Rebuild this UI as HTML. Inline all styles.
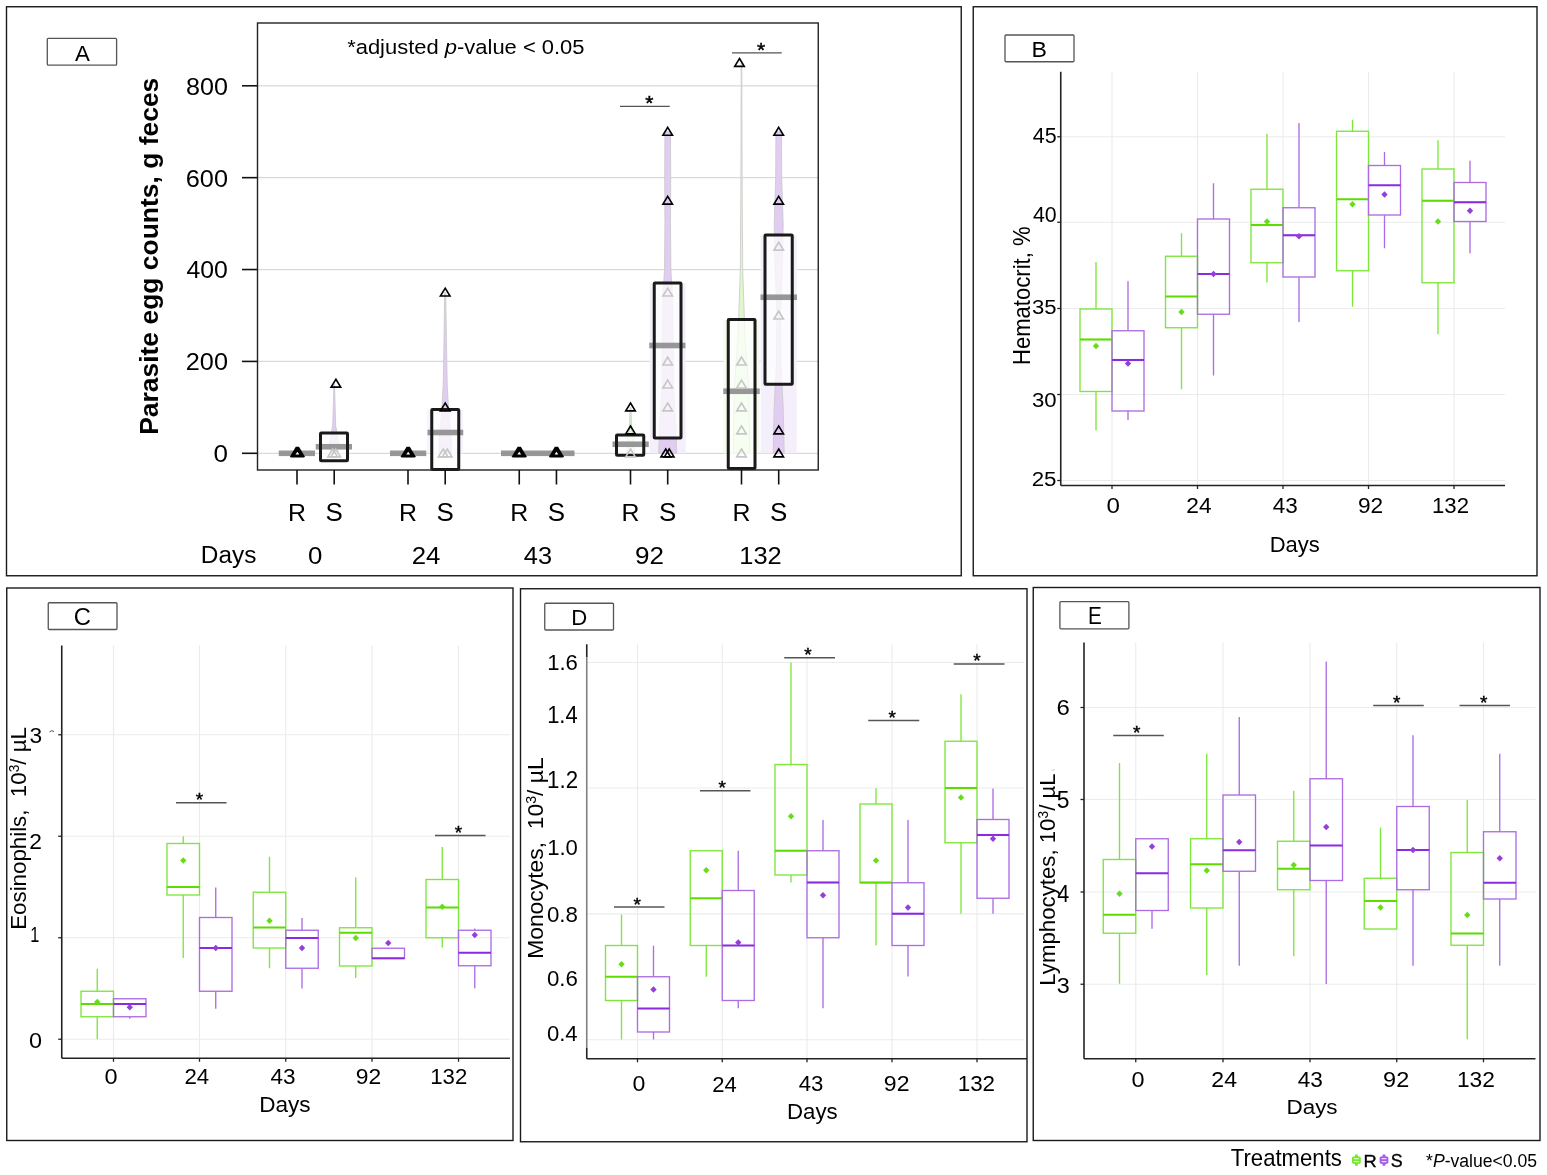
<!DOCTYPE html>
<html><head><meta charset="utf-8"><title>Figure</title>
<style>
html,body{margin:0;padding:0;background:#fff;overflow:hidden;}
svg{display:block;}
text{font-family:'Liberation Sans', Arial, Helvetica, sans-serif;fill:#000;white-space:pre;}
</style></head>
<body>
<svg width="1547" height="1175" viewBox="0 0 1547 1175">
<rect x="0" y="0" width="1547" height="1175" fill="#fff"/>
<rect x="6.50" y="6.75" width="954.75" height="569.00" stroke="#1a1a1a" stroke-width="1.4" fill="none" />
<rect x="973.25" y="6.75" width="563.75" height="569.00" stroke="#1a1a1a" stroke-width="1.4" fill="none" />
<rect x="6.75" y="588.00" width="506.25" height="552.50" stroke="#1a1a1a" stroke-width="1.4" fill="none" />
<rect x="520.50" y="588.75" width="506.50" height="553.00" stroke="#1a1a1a" stroke-width="1.4" fill="none" />
<rect x="1033.25" y="587.50" width="506.75" height="553.00" stroke="#1a1a1a" stroke-width="1.4" fill="none" />
<rect x="47.30" y="38.30" width="69.30" height="26.90" stroke="#555" stroke-width="1.3" fill="none" rx="1"/>
<text transform="translate(75.00,60.80) scale(0.9851,1)" font-size="22.61">A</text>
<rect x="1005.00" y="35.00" width="69.00" height="26.75" stroke="#555" stroke-width="1.3" fill="none" rx="1"/>
<text transform="translate(1031.45,56.60) scale(1.0239,1)" font-size="22.61">B</text>
<rect x="48.25" y="602.75" width="68.75" height="26.75" stroke="#555" stroke-width="1.3" fill="none" rx="1"/>
<text transform="translate(73.81,624.77) scale(1.0308,1)" font-size="23.10">C</text>
<rect x="544.75" y="603.25" width="68.75" height="26.75" stroke="#555" stroke-width="1.3" fill="none" rx="1"/>
<text transform="translate(571.23,624.80) scale(0.9804,1)" font-size="22.61">D</text>
<rect x="1059.90" y="601.70" width="69.00" height="27.10" stroke="#555" stroke-width="1.3" fill="none" rx="1"/>
<text transform="translate(1087.94,624.20) scale(0.8995,1)" font-size="23.04">E</text>
<line x1="257.50" y1="453.30" x2="818.25" y2="453.30" stroke="#d9d9d9" stroke-width="1.2" />
<line x1="242.00" y1="453.30" x2="257.50" y2="453.30" stroke="#111" stroke-width="1.6" />
<text transform="translate(213.46,462.36) scale(1.0688,1)" font-size="24.37">0</text>
<line x1="257.50" y1="361.42" x2="818.25" y2="361.42" stroke="#d9d9d9" stroke-width="1.2" />
<line x1="242.00" y1="361.42" x2="257.50" y2="361.42" stroke="#111" stroke-width="1.6" />
<text transform="translate(185.73,370.37) scale(1.0330,1)" font-size="24.51">200</text>
<line x1="257.50" y1="269.54" x2="818.25" y2="269.54" stroke="#d9d9d9" stroke-width="1.2" />
<line x1="242.00" y1="269.54" x2="257.50" y2="269.54" stroke="#111" stroke-width="1.6" />
<text transform="translate(186.50,278.49) scale(1.0138,1)" font-size="24.51">400</text>
<line x1="257.50" y1="177.66" x2="818.25" y2="177.66" stroke="#d9d9d9" stroke-width="1.2" />
<line x1="242.00" y1="177.66" x2="257.50" y2="177.66" stroke="#111" stroke-width="1.6" />
<text transform="translate(185.73,186.61) scale(1.0330,1)" font-size="24.51">600</text>
<line x1="257.50" y1="85.78" x2="818.25" y2="85.78" stroke="#d9d9d9" stroke-width="1.2" />
<line x1="242.00" y1="85.78" x2="257.50" y2="85.78" stroke="#111" stroke-width="1.6" />
<text transform="translate(185.99,94.73) scale(1.0265,1)" font-size="24.51">800</text>
<rect x="649.70" y="283.32" width="36" height="169.98" fill="#f5effb"/>
<rect x="723.50" y="320.07" width="36" height="133.23" fill="#f4fcee"/>
<rect x="760.70" y="235.09" width="36" height="218.21" fill="#f5effb"/>
<rect x="427.20" y="409.66" width="36" height="43.64" fill="#f8f3fc"/>
<path d="M333.80 384.39 L333.40 402.77 L332.70 425.74 L329.20 444.11 L330.20 453.30 L338.20 453.30 L339.20 444.11 L335.70 425.74 L335.00 402.77 L334.60 384.39 Z" fill="#e0cdf1" stroke="#c8c8c8" stroke-width="0.8" opacity="1.0"/>
<path d="M444.70 292.51 L444.00 338.45 L443.20 384.39 L441.70 411.95 L439.20 439.52 L439.20 453.30 L451.20 453.30 L451.20 439.52 L448.70 411.95 L447.20 384.39 L446.40 338.45 L445.70 292.51 Z" fill="#e0cdf1" stroke="#c8c8c8" stroke-width="0.8" opacity="1.0"/>
<path d="M630.10 407.36 L629.50 425.74 L627.50 439.52 L626.50 453.30 L634.50 453.30 L633.50 439.52 L631.50 425.74 L630.90 407.36 Z" fill="#dff7cc" stroke="#c8c8c8" stroke-width="0.8" opacity="1.0"/>
<path d="M664.90 131.72 L664.70 177.66 L664.90 223.60 L664.50 269.54 L663.20 292.51 L662.20 338.45 L662.20 384.39 L659.70 425.74 L658.70 453.30 L676.70 453.30 L675.70 425.74 L673.20 384.39 L673.20 338.45 L672.20 292.51 L670.90 269.54 L670.50 223.60 L670.70 177.66 L670.50 131.72 Z" fill="#e0cdf1" stroke="#c8c8c8" stroke-width="0.8" opacity="1.0"/>
<path d="M741.20 62.81 L740.90 177.66 L740.30 269.54 L738.00 338.45 L734.50 384.39 L733.50 430.33 L733.50 453.30 L749.50 453.30 L749.50 430.33 L748.50 384.39 L745.00 338.45 L742.70 269.54 L742.10 177.66 L741.80 62.81 Z" fill="#dff7cc" stroke="#c8c8c8" stroke-width="0.8" opacity="1.0"/>
<path d="M775.90 131.72 L775.70 177.66 L774.20 223.60 L775.20 269.54 L776.90 315.48 L776.50 361.42 L774.20 407.36 L773.20 453.30 L784.20 453.30 L783.20 407.36 L780.90 361.42 L780.50 315.48 L782.20 269.54 L783.20 223.60 L781.70 177.66 L781.50 131.72 Z" fill="#e0cdf1" stroke="#c8c8c8" stroke-width="0.8" opacity="1.0"/>
<rect x="320.50" y="433.00" width="27.00" height="27.75" stroke="none" stroke-width="0" fill="rgba(255,255,255,0.72)" />
<rect x="431.75" y="409.50" width="27.00" height="60.00" stroke="none" stroke-width="0" fill="rgba(255,255,255,0.72)" />
<rect x="616.50" y="435.00" width="27.25" height="20.25" stroke="none" stroke-width="0" fill="rgba(255,255,255,0.72)" />
<rect x="654.25" y="283.00" width="26.75" height="155.00" stroke="none" stroke-width="0" fill="rgba(255,255,255,0.72)" />
<rect x="728.25" y="319.50" width="26.75" height="149.00" stroke="none" stroke-width="0" fill="rgba(255,255,255,0.72)" />
<rect x="765.00" y="235.00" width="27.25" height="149.25" stroke="none" stroke-width="0" fill="rgba(255,255,255,0.72)" />
<rect x="278.75" y="450.50" width="36.25" height="5.6" fill="#8c8c8c" opacity="0.9"/>
<rect x="315.75" y="443.95" width="36.25" height="5.6" fill="#8c8c8c" opacity="0.9"/>
<rect x="390.00" y="450.50" width="36.25" height="5.6" fill="#8c8c8c" opacity="0.9"/>
<rect x="427.50" y="429.70" width="35.75" height="5.6" fill="#8c8c8c" opacity="0.9"/>
<rect x="501.00" y="450.50" width="73.50" height="5.6" fill="#8c8c8c" opacity="0.9"/>
<rect x="612.50" y="441.45" width="36.25" height="5.6" fill="#8c8c8c" opacity="0.9"/>
<rect x="649.25" y="342.70" width="36.25" height="5.6" fill="#8c8c8c" opacity="0.9"/>
<rect x="723.25" y="388.45" width="36.50" height="5.6" fill="#8c8c8c" opacity="0.9"/>
<rect x="760.50" y="294.45" width="36.50" height="5.6" fill="#8c8c8c" opacity="0.9"/>
<rect x="320.50" y="433.00" width="27.00" height="27.75" stroke="#1a1a1a" stroke-width="3.0" fill="none" rx="0.8"/>
<rect x="431.75" y="409.50" width="27.00" height="60.00" stroke="#1a1a1a" stroke-width="3.0" fill="none" rx="0.8"/>
<rect x="616.50" y="435.00" width="27.25" height="20.25" stroke="#1a1a1a" stroke-width="3.0" fill="none" rx="0.8"/>
<rect x="654.25" y="283.00" width="26.75" height="155.00" stroke="#1a1a1a" stroke-width="3.0" fill="none" rx="0.8"/>
<rect x="728.25" y="319.50" width="26.75" height="149.00" stroke="#1a1a1a" stroke-width="3.0" fill="none" rx="0.8"/>
<rect x="765.00" y="235.00" width="27.25" height="149.25" stroke="#1a1a1a" stroke-width="3.0" fill="none" rx="0.8"/>
<path d="M295.80 446.80L299.00 446.80L304.70 456.20Q304.70 457.40 303.50 457.40L291.30 457.40Q290.10 457.40 290.10 456.20Z" fill="#000"/>
<path d="M297.40 451.80L299.30 454.50L295.50 454.50Z" fill="#fff"/>
<path d="M332.70 448.97L337.50 456.84L327.90 456.84Z" fill="none" stroke="#c6c6c6" stroke-width="1.6" stroke-linejoin="miter"/>
<path d="M335.70 448.97L340.50 456.84L330.90 456.84Z" fill="none" stroke="#c6c6c6" stroke-width="1.6" stroke-linejoin="miter"/>
<path d="M335.90 379.26L340.70 387.13L331.10 387.13Z" fill="none" stroke="#000" stroke-width="1.6" stroke-linejoin="miter"/>
<path d="M406.60 446.80L409.80 446.80L415.50 456.20Q415.50 457.40 414.30 457.40L402.10 457.40Q400.90 457.40 400.90 456.20Z" fill="#000"/>
<path d="M408.20 451.80L410.10 454.50L406.30 454.50Z" fill="#fff"/>
<path d="M443.20 448.97L448.00 456.84L438.40 456.84Z" fill="none" stroke="#c6c6c6" stroke-width="1.6" stroke-linejoin="miter"/>
<path d="M447.20 448.97L452.00 456.84L442.40 456.84Z" fill="none" stroke="#c6c6c6" stroke-width="1.6" stroke-linejoin="miter"/>
<path d="M445.20 403.03L450.00 410.90L440.40 410.90Z" fill="none" stroke="#000" stroke-width="1.6" stroke-linejoin="miter"/>
<path d="M445.20 288.18L450.00 296.05L440.40 296.05Z" fill="none" stroke="#000" stroke-width="1.6" stroke-linejoin="miter"/>
<path d="M517.65 446.80L520.85 446.80L526.55 456.20Q526.55 457.40 525.35 457.40L513.15 457.40Q511.95 457.40 511.95 456.20Z" fill="#000"/>
<path d="M519.25 451.80L521.15 454.50L517.35 454.50Z" fill="#fff"/>
<path d="M554.85 446.80L558.05 446.80L563.75 456.20Q563.75 457.40 562.55 457.40L550.35 457.40Q549.15 457.40 549.15 456.20Z" fill="#000"/>
<path d="M556.45 451.80L558.35 454.50L554.55 454.50Z" fill="#fff"/>
<path d="M630.50 448.97L635.30 456.84L625.70 456.84Z" fill="none" stroke="#c6c6c6" stroke-width="1.6" stroke-linejoin="miter"/>
<path d="M630.50 426.00L635.30 433.87L625.70 433.87Z" fill="none" stroke="#000" stroke-width="1.6" stroke-linejoin="miter"/>
<path d="M630.50 403.03L635.30 410.90L625.70 410.90Z" fill="none" stroke="#000" stroke-width="1.6" stroke-linejoin="miter"/>
<path d="M667.70 403.03L672.50 410.90L662.90 410.90Z" fill="none" stroke="#c6c6c6" stroke-width="1.6" stroke-linejoin="miter"/>
<path d="M667.70 380.06L672.50 387.93L662.90 387.93Z" fill="none" stroke="#c6c6c6" stroke-width="1.6" stroke-linejoin="miter"/>
<path d="M667.70 357.09L672.50 364.96L662.90 364.96Z" fill="none" stroke="#c6c6c6" stroke-width="1.6" stroke-linejoin="miter"/>
<path d="M667.70 288.18L672.50 296.05L662.90 296.05Z" fill="none" stroke="#c6c6c6" stroke-width="1.6" stroke-linejoin="miter"/>
<path d="M665.70 448.97L670.50 456.84L660.90 456.84Z" fill="none" stroke="#000" stroke-width="1.6" stroke-linejoin="miter"/>
<path d="M669.20 448.97L674.00 456.84L664.40 456.84Z" fill="none" stroke="#000" stroke-width="1.6" stroke-linejoin="miter"/>
<path d="M667.70 196.30L672.50 204.17L662.90 204.17Z" fill="none" stroke="#000" stroke-width="1.6" stroke-linejoin="miter"/>
<path d="M667.70 127.39L672.50 135.26L662.90 135.26Z" fill="none" stroke="#000" stroke-width="1.6" stroke-linejoin="miter"/>
<path d="M741.50 448.97L746.30 456.84L736.70 456.84Z" fill="none" stroke="#c6c6c6" stroke-width="1.6" stroke-linejoin="miter"/>
<path d="M741.50 426.00L746.30 433.87L736.70 433.87Z" fill="none" stroke="#c6c6c6" stroke-width="1.6" stroke-linejoin="miter"/>
<path d="M741.50 403.03L746.30 410.90L736.70 410.90Z" fill="none" stroke="#c6c6c6" stroke-width="1.6" stroke-linejoin="miter"/>
<path d="M741.50 380.06L746.30 387.93L736.70 387.93Z" fill="none" stroke="#c6c6c6" stroke-width="1.6" stroke-linejoin="miter"/>
<path d="M741.50 357.09L746.30 364.96L736.70 364.96Z" fill="none" stroke="#c6c6c6" stroke-width="1.6" stroke-linejoin="miter"/>
<path d="M739.50 58.48L744.30 66.35L734.70 66.35Z" fill="none" stroke="#000" stroke-width="1.6" stroke-linejoin="miter"/>
<path d="M778.70 311.15L783.50 319.02L773.90 319.02Z" fill="none" stroke="#c6c6c6" stroke-width="1.6" stroke-linejoin="miter"/>
<path d="M778.70 242.24L783.50 250.11L773.90 250.11Z" fill="none" stroke="#c6c6c6" stroke-width="1.6" stroke-linejoin="miter"/>
<path d="M778.70 448.97L783.50 456.84L773.90 456.84Z" fill="none" stroke="#000" stroke-width="1.6" stroke-linejoin="miter"/>
<path d="M778.70 426.00L783.50 433.87L773.90 433.87Z" fill="none" stroke="#000" stroke-width="1.6" stroke-linejoin="miter"/>
<path d="M778.70 196.30L783.50 204.17L773.90 204.17Z" fill="none" stroke="#000" stroke-width="1.6" stroke-linejoin="miter"/>
<path d="M778.70 127.39L783.50 135.26L773.90 135.26Z" fill="none" stroke="#000" stroke-width="1.6" stroke-linejoin="miter"/>
<rect x="257.50" y="23.00" width="560.75" height="447.00" stroke="#222" stroke-width="1.4" fill="none" />
<line x1="297.00" y1="470.00" x2="297.00" y2="484.50" stroke="#111" stroke-width="1.6" />
<line x1="334.20" y1="470.00" x2="334.20" y2="484.50" stroke="#111" stroke-width="1.6" />
<text transform="translate(288.11,520.90) scale(1.0506,1)" font-size="23.71">R</text>
<text transform="translate(325.50,521.15) scale(1.0357,1)" font-size="25.07">S</text>
<text transform="translate(307.97,563.86) scale(1.0726,1)" font-size="24.08">0</text>
<line x1="408.00" y1="470.00" x2="408.00" y2="484.50" stroke="#111" stroke-width="1.6" />
<line x1="445.20" y1="470.00" x2="445.20" y2="484.50" stroke="#111" stroke-width="1.6" />
<text transform="translate(399.11,520.90) scale(1.0506,1)" font-size="23.71">R</text>
<text transform="translate(436.50,521.15) scale(1.0357,1)" font-size="25.07">S</text>
<text transform="translate(411.71,564.10) scale(1.0572,1)" font-size="24.43">24</text>
<line x1="519.25" y1="470.00" x2="519.25" y2="484.50" stroke="#111" stroke-width="1.6" />
<line x1="556.45" y1="470.00" x2="556.45" y2="484.50" stroke="#111" stroke-width="1.6" />
<text transform="translate(510.36,520.90) scale(1.0506,1)" font-size="23.71">R</text>
<text transform="translate(547.75,521.15) scale(1.0357,1)" font-size="25.07">S</text>
<text transform="translate(523.79,563.86) scale(1.0558,1)" font-size="24.08">43</text>
<line x1="630.50" y1="470.00" x2="630.50" y2="484.50" stroke="#111" stroke-width="1.6" />
<line x1="667.70" y1="470.00" x2="667.70" y2="484.50" stroke="#111" stroke-width="1.6" />
<text transform="translate(621.61,520.90) scale(1.0506,1)" font-size="23.71">R</text>
<text transform="translate(659.00,521.15) scale(1.0357,1)" font-size="25.07">S</text>
<text transform="translate(635.00,563.86) scale(1.0812,1)" font-size="24.08">92</text>
<line x1="741.50" y1="470.00" x2="741.50" y2="484.50" stroke="#111" stroke-width="1.6" />
<line x1="778.70" y1="470.00" x2="778.70" y2="484.50" stroke="#111" stroke-width="1.6" />
<text transform="translate(732.61,520.90) scale(1.0506,1)" font-size="23.71">R</text>
<text transform="translate(770.00,521.15) scale(1.0357,1)" font-size="25.07">S</text>
<text transform="translate(739.26,563.86) scale(1.0569,1)" font-size="24.08">132</text>
<text transform="translate(200.85,562.57) scale(0.9981,1)" font-size="24.44">Days</text>
<line x1="620.00" y1="106.30" x2="669.75" y2="106.30" stroke="#555" stroke-width="1.3" />
<text x="645.30" y="110.31" font-size="21" stroke="#000" stroke-width="0.45">*</text>
<line x1="732.00" y1="52.80" x2="781.75" y2="52.80" stroke="#555" stroke-width="1.3" />
<text x="757.11" y="57.02" font-size="21" stroke="#000" stroke-width="0.45">*</text>
<text transform="translate(347.16,54.27) scale(1.0642,1)" font-size="20.64">*adjusted <tspan font-style="italic">p</tspan>-value &lt; 0.05</text>
<text transform="translate(158.00,434.85) rotate(-90) scale(1.0008,1)" font-size="26.44" font-weight="bold">Parasite egg counts, g feces</text>
<line x1="1060.75" y1="136.75" x2="1505.00" y2="136.75" stroke="#ebebeb" stroke-width="1.1" />
<line x1="1060.75" y1="222.25" x2="1505.00" y2="222.25" stroke="#ebebeb" stroke-width="1.1" />
<line x1="1060.75" y1="308.50" x2="1505.00" y2="308.50" stroke="#ebebeb" stroke-width="1.1" />
<line x1="1060.75" y1="394.50" x2="1505.00" y2="394.50" stroke="#ebebeb" stroke-width="1.1" />
<line x1="1060.75" y1="480.50" x2="1505.00" y2="480.50" stroke="#ebebeb" stroke-width="1.1" />
<line x1="1112.00" y1="71.75" x2="1112.00" y2="485.50" stroke="#ebebeb" stroke-width="1.1" />
<line x1="1197.50" y1="71.75" x2="1197.50" y2="485.50" stroke="#ebebeb" stroke-width="1.1" />
<line x1="1283.00" y1="71.75" x2="1283.00" y2="485.50" stroke="#ebebeb" stroke-width="1.1" />
<line x1="1368.50" y1="71.75" x2="1368.50" y2="485.50" stroke="#ebebeb" stroke-width="1.1" />
<line x1="1454.00" y1="71.75" x2="1454.00" y2="485.50" stroke="#ebebeb" stroke-width="1.1" />
<line x1="1096.00" y1="262.00" x2="1096.00" y2="309.00" stroke="#7de63a" stroke-width="1.35" />
<line x1="1096.00" y1="391.50" x2="1096.00" y2="430.50" stroke="#7de63a" stroke-width="1.35" />
<rect x="1080.00" y="309.00" width="32.00" height="82.50" stroke="#7de63a" stroke-width="1.35" fill="none" />
<line x1="1080.00" y1="339.50" x2="1112.00" y2="339.50" stroke="#5cdc00" stroke-width="2.1" />
<path d="M1096.00 342.80L1099.20 346.00L1096.00 349.20L1092.80 346.00Z" fill="#66dd1a"/>
<line x1="1128.00" y1="281.25" x2="1128.00" y2="330.75" stroke="#ac6de2" stroke-width="1.35" />
<line x1="1128.00" y1="411.00" x2="1128.00" y2="420.00" stroke="#ac6de2" stroke-width="1.35" />
<rect x="1112.00" y="330.75" width="32.00" height="80.25" stroke="#ac6de2" stroke-width="1.35" fill="none" />
<line x1="1112.00" y1="360.00" x2="1144.00" y2="360.00" stroke="#8a2be2" stroke-width="2.1" />
<path d="M1128.00 360.30L1131.20 363.50L1128.00 366.70L1124.80 363.50Z" fill="#9440d8"/>
<line x1="1181.50" y1="233.25" x2="1181.50" y2="256.25" stroke="#7de63a" stroke-width="1.35" />
<line x1="1181.50" y1="327.75" x2="1181.50" y2="389.25" stroke="#7de63a" stroke-width="1.35" />
<rect x="1165.50" y="256.25" width="32.00" height="71.50" stroke="#7de63a" stroke-width="1.35" fill="none" />
<line x1="1165.50" y1="296.50" x2="1197.50" y2="296.50" stroke="#5cdc00" stroke-width="2.1" />
<path d="M1181.50 308.80L1184.70 312.00L1181.50 315.20L1178.30 312.00Z" fill="#66dd1a"/>
<line x1="1213.50" y1="183.25" x2="1213.50" y2="219.00" stroke="#ac6de2" stroke-width="1.35" />
<line x1="1213.50" y1="314.25" x2="1213.50" y2="375.50" stroke="#ac6de2" stroke-width="1.35" />
<rect x="1197.50" y="219.00" width="32.00" height="95.25" stroke="#ac6de2" stroke-width="1.35" fill="none" />
<line x1="1197.50" y1="274.00" x2="1229.50" y2="274.00" stroke="#8a2be2" stroke-width="2.1" />
<path d="M1213.50 270.80L1216.70 274.00L1213.50 277.20L1210.30 274.00Z" fill="#9440d8"/>
<line x1="1267.00" y1="133.75" x2="1267.00" y2="189.25" stroke="#7de63a" stroke-width="1.35" />
<line x1="1267.00" y1="262.75" x2="1267.00" y2="282.50" stroke="#7de63a" stroke-width="1.35" />
<rect x="1251.00" y="189.25" width="32.00" height="73.50" stroke="#7de63a" stroke-width="1.35" fill="none" />
<line x1="1251.00" y1="225.00" x2="1283.00" y2="225.00" stroke="#5cdc00" stroke-width="2.1" />
<path d="M1267.00 218.30L1270.20 221.50L1267.00 224.70L1263.80 221.50Z" fill="#66dd1a"/>
<line x1="1299.00" y1="123.00" x2="1299.00" y2="207.75" stroke="#ac6de2" stroke-width="1.35" />
<line x1="1299.00" y1="277.00" x2="1299.00" y2="322.00" stroke="#ac6de2" stroke-width="1.35" />
<rect x="1283.00" y="207.75" width="32.00" height="69.25" stroke="#ac6de2" stroke-width="1.35" fill="none" />
<line x1="1283.00" y1="235.25" x2="1315.00" y2="235.25" stroke="#8a2be2" stroke-width="2.1" />
<path d="M1299.00 233.05L1302.20 236.25L1299.00 239.45L1295.80 236.25Z" fill="#9440d8"/>
<line x1="1352.50" y1="119.75" x2="1352.50" y2="131.25" stroke="#7de63a" stroke-width="1.35" />
<line x1="1352.50" y1="270.75" x2="1352.50" y2="306.75" stroke="#7de63a" stroke-width="1.35" />
<rect x="1336.50" y="131.25" width="32.00" height="139.50" stroke="#7de63a" stroke-width="1.35" fill="none" />
<line x1="1336.50" y1="199.25" x2="1368.50" y2="199.25" stroke="#5cdc00" stroke-width="2.1" />
<path d="M1352.50 201.05L1355.70 204.25L1352.50 207.45L1349.30 204.25Z" fill="#66dd1a"/>
<line x1="1384.50" y1="152.00" x2="1384.50" y2="165.50" stroke="#ac6de2" stroke-width="1.35" />
<line x1="1384.50" y1="215.00" x2="1384.50" y2="248.25" stroke="#ac6de2" stroke-width="1.35" />
<rect x="1368.50" y="165.50" width="32.00" height="49.50" stroke="#ac6de2" stroke-width="1.35" fill="none" />
<line x1="1368.50" y1="185.25" x2="1400.50" y2="185.25" stroke="#8a2be2" stroke-width="2.1" />
<path d="M1384.50 191.30L1387.70 194.50L1384.50 197.70L1381.30 194.50Z" fill="#9440d8"/>
<line x1="1438.00" y1="140.25" x2="1438.00" y2="169.00" stroke="#7de63a" stroke-width="1.35" />
<line x1="1438.00" y1="282.75" x2="1438.00" y2="334.25" stroke="#7de63a" stroke-width="1.35" />
<rect x="1422.00" y="169.00" width="32.00" height="113.75" stroke="#7de63a" stroke-width="1.35" fill="none" />
<line x1="1422.00" y1="200.75" x2="1454.00" y2="200.75" stroke="#5cdc00" stroke-width="2.1" />
<path d="M1438.00 218.30L1441.20 221.50L1438.00 224.70L1434.80 221.50Z" fill="#66dd1a"/>
<line x1="1470.00" y1="160.75" x2="1470.00" y2="182.50" stroke="#ac6de2" stroke-width="1.35" />
<line x1="1470.00" y1="221.50" x2="1470.00" y2="253.25" stroke="#ac6de2" stroke-width="1.35" />
<rect x="1454.00" y="182.50" width="32.00" height="39.00" stroke="#ac6de2" stroke-width="1.35" fill="none" />
<line x1="1454.00" y1="202.25" x2="1486.00" y2="202.25" stroke="#8a2be2" stroke-width="2.1" />
<path d="M1470.00 207.55L1473.20 210.75L1470.00 213.95L1466.80 210.75Z" fill="#9440d8"/>
<line x1="1060.75" y1="71.75" x2="1060.75" y2="485.50" stroke="#222" stroke-width="1.6" />
<line x1="1060.75" y1="485.50" x2="1505.00" y2="485.50" stroke="#222" stroke-width="1.6" />
<line x1="1112.00" y1="485.50" x2="1112.00" y2="489.00" stroke="#222" stroke-width="1.3" />
<line x1="1197.50" y1="485.50" x2="1197.50" y2="489.00" stroke="#222" stroke-width="1.3" />
<line x1="1283.00" y1="485.50" x2="1283.00" y2="489.00" stroke="#222" stroke-width="1.3" />
<line x1="1368.50" y1="485.50" x2="1368.50" y2="489.00" stroke="#222" stroke-width="1.3" />
<line x1="1454.00" y1="485.50" x2="1454.00" y2="489.00" stroke="#222" stroke-width="1.3" />
<line x1="1057.25" y1="136.75" x2="1060.75" y2="136.75" stroke="#222" stroke-width="1.3" />
<line x1="1057.25" y1="222.25" x2="1060.75" y2="222.25" stroke="#222" stroke-width="1.3" />
<line x1="1057.25" y1="308.50" x2="1060.75" y2="308.50" stroke="#222" stroke-width="1.3" />
<line x1="1057.25" y1="394.50" x2="1060.75" y2="394.50" stroke="#222" stroke-width="1.3" />
<line x1="1057.25" y1="480.50" x2="1060.75" y2="480.50" stroke="#222" stroke-width="1.3" />
<text transform="translate(1032.77,143.18) scale(0.9734,1)" font-size="22.11">45</text>
<text transform="translate(1032.97,222.38) scale(0.9900,1)" font-size="21.55">40</text>
<text transform="translate(1031.91,314.39) scale(1.0548,1)" font-size="20.99">35</text>
<text transform="translate(1031.91,407.09) scale(1.0478,1)" font-size="21.13">30</text>
<text transform="translate(1031.68,485.69) scale(1.0580,1)" font-size="21.13">25</text>
<text transform="translate(1106.43,513.07) scale(1.0724,1)" font-size="22.54">0</text>
<text transform="translate(1186.26,513.30) scale(0.9939,1)" font-size="22.86">24</text>
<text transform="translate(1272.65,513.07) scale(0.9974,1)" font-size="22.54">43</text>
<text transform="translate(1357.97,513.07) scale(1.0061,1)" font-size="22.54">92</text>
<text transform="translate(1432.03,513.07) scale(0.9826,1)" font-size="22.54">132</text>
<text transform="translate(1269.64,552.32) scale(1.0330,1)" font-size="21.33">Days</text>
<text transform="translate(1029.50,365.07) rotate(-90) scale(0.9606,1)" font-size="23.00">Hematocrit, %</text>
<line x1="61.75" y1="734.75" x2="510.00" y2="734.75" stroke="#ebebeb" stroke-width="1.1" />
<line x1="61.75" y1="836.25" x2="510.00" y2="836.25" stroke="#ebebeb" stroke-width="1.1" />
<line x1="61.75" y1="937.75" x2="510.00" y2="937.75" stroke="#ebebeb" stroke-width="1.1" />
<line x1="61.75" y1="1039.25" x2="510.00" y2="1039.25" stroke="#ebebeb" stroke-width="1.1" />
<line x1="113.50" y1="645.50" x2="113.50" y2="1058.25" stroke="#ebebeb" stroke-width="1.1" />
<line x1="199.50" y1="645.50" x2="199.50" y2="1058.25" stroke="#ebebeb" stroke-width="1.1" />
<line x1="285.75" y1="645.50" x2="285.75" y2="1058.25" stroke="#ebebeb" stroke-width="1.1" />
<line x1="372.00" y1="645.50" x2="372.00" y2="1058.25" stroke="#ebebeb" stroke-width="1.1" />
<line x1="458.50" y1="645.50" x2="458.50" y2="1058.25" stroke="#ebebeb" stroke-width="1.1" />
<line x1="97.25" y1="968.75" x2="97.25" y2="991.25" stroke="#7de63a" stroke-width="1.35" />
<line x1="97.25" y1="1016.75" x2="97.25" y2="1039.25" stroke="#7de63a" stroke-width="1.35" />
<rect x="81.00" y="991.25" width="32.50" height="25.50" stroke="#7de63a" stroke-width="1.35" fill="none" />
<line x1="81.00" y1="1004.00" x2="113.50" y2="1004.00" stroke="#5cdc00" stroke-width="2.1" />
<path d="M97.25 998.80L100.45 1002.00L97.25 1005.20L94.05 1002.00Z" fill="#66dd1a"/>
<line x1="129.75" y1="1016.75" x2="129.75" y2="1018.75" stroke="#ac6de2" stroke-width="1.35" />
<rect x="113.50" y="998.75" width="32.50" height="18.00" stroke="#ac6de2" stroke-width="1.35" fill="none" />
<line x1="113.50" y1="1004.00" x2="146.00" y2="1004.00" stroke="#8a2be2" stroke-width="2.1" />
<path d="M129.75 1004.05L132.95 1007.25L129.75 1010.45L126.55 1007.25Z" fill="#9440d8"/>
<line x1="183.25" y1="836.25" x2="183.25" y2="843.50" stroke="#7de63a" stroke-width="1.35" />
<line x1="183.25" y1="895.00" x2="183.25" y2="958.00" stroke="#7de63a" stroke-width="1.35" />
<rect x="167.00" y="843.50" width="32.50" height="51.50" stroke="#7de63a" stroke-width="1.35" fill="none" />
<line x1="167.00" y1="887.00" x2="199.50" y2="887.00" stroke="#5cdc00" stroke-width="2.1" />
<path d="M183.25 857.30L186.45 860.50L183.25 863.70L180.05 860.50Z" fill="#66dd1a"/>
<line x1="215.75" y1="887.50" x2="215.75" y2="917.50" stroke="#ac6de2" stroke-width="1.35" />
<line x1="215.75" y1="991.25" x2="215.75" y2="1008.75" stroke="#ac6de2" stroke-width="1.35" />
<rect x="199.50" y="917.50" width="32.50" height="73.75" stroke="#ac6de2" stroke-width="1.35" fill="none" />
<line x1="199.50" y1="948.00" x2="232.00" y2="948.00" stroke="#8a2be2" stroke-width="2.1" />
<path d="M215.75 944.80L218.95 948.00L215.75 951.20L212.55 948.00Z" fill="#9440d8"/>
<line x1="269.50" y1="856.75" x2="269.50" y2="892.25" stroke="#7de63a" stroke-width="1.35" />
<line x1="269.50" y1="948.00" x2="269.50" y2="968.25" stroke="#7de63a" stroke-width="1.35" />
<rect x="253.25" y="892.25" width="32.50" height="55.75" stroke="#7de63a" stroke-width="1.35" fill="none" />
<line x1="253.25" y1="927.50" x2="285.75" y2="927.50" stroke="#5cdc00" stroke-width="2.1" />
<path d="M269.50 917.55L272.70 920.75L269.50 923.95L266.30 920.75Z" fill="#66dd1a"/>
<line x1="302.00" y1="918.00" x2="302.00" y2="930.25" stroke="#ac6de2" stroke-width="1.35" />
<line x1="302.00" y1="968.25" x2="302.00" y2="988.50" stroke="#ac6de2" stroke-width="1.35" />
<rect x="285.75" y="930.25" width="32.50" height="38.00" stroke="#ac6de2" stroke-width="1.35" fill="none" />
<line x1="285.75" y1="938.00" x2="318.25" y2="938.00" stroke="#8a2be2" stroke-width="2.1" />
<path d="M302.00 944.80L305.20 948.00L302.00 951.20L298.80 948.00Z" fill="#9440d8"/>
<line x1="355.75" y1="877.50" x2="355.75" y2="927.75" stroke="#7de63a" stroke-width="1.35" />
<line x1="355.75" y1="966.00" x2="355.75" y2="978.00" stroke="#7de63a" stroke-width="1.35" />
<rect x="339.50" y="927.75" width="32.50" height="38.25" stroke="#7de63a" stroke-width="1.35" fill="none" />
<line x1="339.50" y1="932.75" x2="372.00" y2="932.75" stroke="#5cdc00" stroke-width="2.1" />
<path d="M355.75 934.80L358.95 938.00L355.75 941.20L352.55 938.00Z" fill="#66dd1a"/>
<rect x="372.00" y="948.25" width="32.50" height="10.25" stroke="#ac6de2" stroke-width="1.35" fill="none" />
<line x1="372.00" y1="958.25" x2="404.50" y2="958.25" stroke="#8a2be2" stroke-width="2.1" />
<path d="M388.25 939.80L391.45 943.00L388.25 946.20L385.05 943.00Z" fill="#9440d8"/>
<line x1="442.25" y1="847.00" x2="442.25" y2="879.50" stroke="#7de63a" stroke-width="1.35" />
<line x1="442.25" y1="937.75" x2="442.25" y2="947.50" stroke="#7de63a" stroke-width="1.35" />
<rect x="426.00" y="879.50" width="32.50" height="58.25" stroke="#7de63a" stroke-width="1.35" fill="none" />
<line x1="426.00" y1="907.50" x2="458.50" y2="907.50" stroke="#5cdc00" stroke-width="2.1" />
<path d="M442.25 903.55L445.45 906.75L442.25 909.95L439.05 906.75Z" fill="#66dd1a"/>
<line x1="474.75" y1="928.50" x2="474.75" y2="930.25" stroke="#ac6de2" stroke-width="1.35" />
<line x1="474.75" y1="965.75" x2="474.75" y2="988.25" stroke="#ac6de2" stroke-width="1.35" />
<rect x="458.50" y="930.25" width="32.50" height="35.50" stroke="#ac6de2" stroke-width="1.35" fill="none" />
<line x1="458.50" y1="952.75" x2="491.00" y2="952.75" stroke="#8a2be2" stroke-width="2.1" />
<path d="M474.75 931.80L477.95 935.00L474.75 938.20L471.55 935.00Z" fill="#9440d8"/>
<line x1="176.00" y1="802.75" x2="226.50" y2="802.75" stroke="#555" stroke-width="1.3" />
<text x="195.69" y="806.28" font-size="19" stroke="#000" stroke-width="0.45">*</text>
<line x1="435.00" y1="835.50" x2="485.50" y2="835.50" stroke="#555" stroke-width="1.3" />
<text x="454.69" y="839.28" font-size="19" stroke="#000" stroke-width="0.45">*</text>
<line x1="61.75" y1="645.50" x2="61.75" y2="1058.25" stroke="#222" stroke-width="1.6" />
<line x1="61.75" y1="1058.25" x2="510.00" y2="1058.25" stroke="#222" stroke-width="1.6" />
<line x1="113.50" y1="1058.25" x2="113.50" y2="1061.75" stroke="#222" stroke-width="1.3" />
<line x1="199.50" y1="1058.25" x2="199.50" y2="1061.75" stroke="#222" stroke-width="1.3" />
<line x1="285.75" y1="1058.25" x2="285.75" y2="1061.75" stroke="#222" stroke-width="1.3" />
<line x1="372.00" y1="1058.25" x2="372.00" y2="1061.75" stroke="#222" stroke-width="1.3" />
<line x1="458.50" y1="1058.25" x2="458.50" y2="1061.75" stroke="#222" stroke-width="1.3" />
<line x1="58.25" y1="734.75" x2="61.75" y2="734.75" stroke="#222" stroke-width="1.3" />
<line x1="58.25" y1="836.25" x2="61.75" y2="836.25" stroke="#222" stroke-width="1.3" />
<line x1="58.25" y1="937.75" x2="61.75" y2="937.75" stroke="#222" stroke-width="1.3" />
<line x1="58.25" y1="1039.25" x2="61.75" y2="1039.25" stroke="#222" stroke-width="1.3" />
<text transform="translate(29.49,743.48) scale(1.0295,1)" font-size="22.11">3</text>
<text transform="translate(29.36,849.00) scale(1.0512,1)" font-size="21.71">2</text>
<text transform="translate(30.30,941.50) scale(0.7342,1)" font-size="22.17">1</text>
<text transform="translate(29.06,1048.08) scale(1.0532,1)" font-size="22.25">0</text>
<path d="M49.6 731.9 Q51.5 729.6 53.9 731.6" stroke="#333" stroke-width="0.9" fill="none"/>
<text transform="translate(104.46,1083.97) scale(1.0447,1)" font-size="22.54">0</text>
<text transform="translate(184.49,1084.20) scale(0.9727,1)" font-size="22.86">24</text>
<text transform="translate(270.55,1083.97) scale(0.9974,1)" font-size="22.54">43</text>
<text transform="translate(355.86,1083.97) scale(1.0149,1)" font-size="22.54">92</text>
<text transform="translate(430.22,1083.97) scale(0.9855,1)" font-size="22.54">132</text>
<text transform="translate(259.19,1112.37) scale(1.0481,1)" font-size="21.56">Days</text>
<text transform="translate(26.00,929.78) rotate(-90) scale(0.9929,1)" font-size="22.46">Eosinophils,  10<tspan dy="-0.492em" font-size="0.62em">3</tspan><tspan dy="0.305em">/ µL</tspan></text>
<line x1="586.75" y1="662.50" x2="1024.00" y2="662.50" stroke="#ebebeb" stroke-width="1.1" />
<line x1="586.75" y1="788.00" x2="1024.00" y2="788.00" stroke="#ebebeb" stroke-width="1.1" />
<line x1="586.75" y1="913.90" x2="1024.00" y2="913.90" stroke="#ebebeb" stroke-width="1.1" />
<line x1="586.75" y1="1039.70" x2="1024.00" y2="1039.70" stroke="#ebebeb" stroke-width="1.1" />
<line x1="637.50" y1="644.25" x2="637.50" y2="1058.75" stroke="#ebebeb" stroke-width="1.1" />
<line x1="722.25" y1="644.25" x2="722.25" y2="1058.75" stroke="#ebebeb" stroke-width="1.1" />
<line x1="807.00" y1="644.25" x2="807.00" y2="1058.75" stroke="#ebebeb" stroke-width="1.1" />
<line x1="892.00" y1="644.25" x2="892.00" y2="1058.75" stroke="#ebebeb" stroke-width="1.1" />
<line x1="977.00" y1="644.25" x2="977.00" y2="1058.75" stroke="#ebebeb" stroke-width="1.1" />
<line x1="621.50" y1="914.50" x2="621.50" y2="945.50" stroke="#7de63a" stroke-width="1.35" />
<line x1="621.50" y1="1000.50" x2="621.50" y2="1039.50" stroke="#7de63a" stroke-width="1.35" />
<rect x="605.50" y="945.50" width="32.00" height="55.00" stroke="#7de63a" stroke-width="1.35" fill="none" />
<line x1="605.50" y1="976.75" x2="637.50" y2="976.75" stroke="#5cdc00" stroke-width="2.1" />
<path d="M621.50 961.05L624.70 964.25L621.50 967.45L618.30 964.25Z" fill="#66dd1a"/>
<line x1="653.50" y1="945.75" x2="653.50" y2="976.75" stroke="#ac6de2" stroke-width="1.35" />
<line x1="653.50" y1="1032.00" x2="653.50" y2="1039.50" stroke="#ac6de2" stroke-width="1.35" />
<rect x="637.50" y="976.75" width="32.00" height="55.25" stroke="#ac6de2" stroke-width="1.35" fill="none" />
<line x1="637.50" y1="1008.50" x2="669.50" y2="1008.50" stroke="#8a2be2" stroke-width="2.1" />
<path d="M653.50 986.30L656.70 989.50L653.50 992.70L650.30 989.50Z" fill="#9440d8"/>
<line x1="706.25" y1="945.50" x2="706.25" y2="976.75" stroke="#7de63a" stroke-width="1.35" />
<rect x="690.25" y="850.75" width="32.00" height="94.75" stroke="#7de63a" stroke-width="1.35" fill="none" />
<line x1="690.25" y1="898.25" x2="722.25" y2="898.25" stroke="#5cdc00" stroke-width="2.1" />
<path d="M706.25 867.05L709.45 870.25L706.25 873.45L703.05 870.25Z" fill="#66dd1a"/>
<line x1="738.25" y1="850.75" x2="738.25" y2="890.50" stroke="#ac6de2" stroke-width="1.35" />
<line x1="738.25" y1="1000.50" x2="738.25" y2="1008.25" stroke="#ac6de2" stroke-width="1.35" />
<rect x="722.25" y="890.50" width="32.00" height="110.00" stroke="#ac6de2" stroke-width="1.35" fill="none" />
<line x1="722.25" y1="945.50" x2="754.25" y2="945.50" stroke="#8a2be2" stroke-width="2.1" />
<path d="M738.25 939.30L741.45 942.50L738.25 945.70L735.05 942.50Z" fill="#9440d8"/>
<line x1="791.00" y1="662.50" x2="791.00" y2="764.50" stroke="#7de63a" stroke-width="1.35" />
<line x1="791.00" y1="875.00" x2="791.00" y2="882.50" stroke="#7de63a" stroke-width="1.35" />
<rect x="775.00" y="764.50" width="32.00" height="110.50" stroke="#7de63a" stroke-width="1.35" fill="none" />
<line x1="775.00" y1="850.75" x2="807.00" y2="850.75" stroke="#5cdc00" stroke-width="2.1" />
<path d="M791.00 813.05L794.20 816.25L791.00 819.45L787.80 816.25Z" fill="#66dd1a"/>
<line x1="823.00" y1="820.00" x2="823.00" y2="850.75" stroke="#ac6de2" stroke-width="1.35" />
<line x1="823.00" y1="937.75" x2="823.00" y2="1008.25" stroke="#ac6de2" stroke-width="1.35" />
<rect x="807.00" y="850.75" width="32.00" height="87.00" stroke="#ac6de2" stroke-width="1.35" fill="none" />
<line x1="807.00" y1="882.50" x2="839.00" y2="882.50" stroke="#8a2be2" stroke-width="2.1" />
<path d="M823.00 892.05L826.20 895.25L823.00 898.45L819.80 895.25Z" fill="#9440d8"/>
<line x1="876.00" y1="788.25" x2="876.00" y2="804.00" stroke="#7de63a" stroke-width="1.35" />
<line x1="876.00" y1="882.75" x2="876.00" y2="945.50" stroke="#7de63a" stroke-width="1.35" />
<rect x="860.00" y="804.00" width="32.00" height="78.75" stroke="#7de63a" stroke-width="1.35" fill="none" />
<line x1="860.00" y1="882.50" x2="892.00" y2="882.50" stroke="#5cdc00" stroke-width="2.1" />
<path d="M876.00 857.30L879.20 860.50L876.00 863.70L872.80 860.50Z" fill="#66dd1a"/>
<line x1="908.00" y1="820.00" x2="908.00" y2="882.75" stroke="#ac6de2" stroke-width="1.35" />
<line x1="908.00" y1="945.50" x2="908.00" y2="976.50" stroke="#ac6de2" stroke-width="1.35" />
<rect x="892.00" y="882.75" width="32.00" height="62.75" stroke="#ac6de2" stroke-width="1.35" fill="none" />
<line x1="892.00" y1="913.75" x2="924.00" y2="913.75" stroke="#8a2be2" stroke-width="2.1" />
<path d="M908.00 904.30L911.20 907.50L908.00 910.70L904.80 907.50Z" fill="#9440d8"/>
<line x1="961.00" y1="694.25" x2="961.00" y2="741.25" stroke="#7de63a" stroke-width="1.35" />
<line x1="961.00" y1="842.75" x2="961.00" y2="913.75" stroke="#7de63a" stroke-width="1.35" />
<rect x="945.00" y="741.25" width="32.00" height="101.50" stroke="#7de63a" stroke-width="1.35" fill="none" />
<line x1="945.00" y1="788.00" x2="977.00" y2="788.00" stroke="#5cdc00" stroke-width="2.1" />
<path d="M961.00 794.30L964.20 797.50L961.00 800.70L957.80 797.50Z" fill="#66dd1a"/>
<line x1="993.00" y1="788.50" x2="993.00" y2="819.50" stroke="#ac6de2" stroke-width="1.35" />
<line x1="993.00" y1="898.25" x2="993.00" y2="913.75" stroke="#ac6de2" stroke-width="1.35" />
<rect x="977.00" y="819.50" width="32.00" height="78.75" stroke="#ac6de2" stroke-width="1.35" fill="none" />
<line x1="977.00" y1="835.00" x2="1009.00" y2="835.00" stroke="#8a2be2" stroke-width="2.1" />
<path d="M993.00 835.55L996.20 838.75L993.00 841.95L989.80 838.75Z" fill="#9440d8"/>
<line x1="614.00" y1="907.00" x2="664.50" y2="907.00" stroke="#555" stroke-width="1.3" />
<text x="633.59" y="910.78" font-size="19" stroke="#000" stroke-width="0.45">*</text>
<line x1="700.00" y1="790.75" x2="750.50" y2="790.75" stroke="#555" stroke-width="1.3" />
<text x="718.59" y="794.28" font-size="19" stroke="#000" stroke-width="0.45">*</text>
<line x1="784.25" y1="657.75" x2="835.00" y2="657.75" stroke="#555" stroke-width="1.3" />
<text x="804.29" y="661.08" font-size="19" stroke="#000" stroke-width="0.45">*</text>
<line x1="868.25" y1="720.50" x2="919.25" y2="720.50" stroke="#555" stroke-width="1.3" />
<text x="888.50" y="723.99" font-size="19" stroke="#000" stroke-width="0.45">*</text>
<line x1="953.75" y1="664.00" x2="1004.50" y2="664.00" stroke="#555" stroke-width="1.3" />
<text x="973.29" y="667.49" font-size="19" stroke="#000" stroke-width="0.45">*</text>
<line x1="586.75" y1="644.25" x2="586.75" y2="657.25" stroke="#222" stroke-width="1.6" />
<line x1="586.75" y1="657.25" x2="586.75" y2="1047.75" stroke="#808080" stroke-width="1.6" />
<line x1="586.75" y1="1047.75" x2="586.75" y2="1058.75" stroke="#222" stroke-width="1.6" />
<line x1="586.75" y1="1058.75" x2="1027.00" y2="1058.75" stroke="#222" stroke-width="1.6" />
<line x1="637.50" y1="1058.75" x2="637.50" y2="1062.25" stroke="#222" stroke-width="1.3" />
<line x1="722.25" y1="1058.75" x2="722.25" y2="1062.25" stroke="#222" stroke-width="1.3" />
<line x1="807.00" y1="1058.75" x2="807.00" y2="1062.25" stroke="#222" stroke-width="1.3" />
<line x1="892.00" y1="1058.75" x2="892.00" y2="1062.25" stroke="#222" stroke-width="1.3" />
<line x1="977.00" y1="1058.75" x2="977.00" y2="1062.25" stroke="#222" stroke-width="1.3" />
<text transform="translate(547.13,669.77) scale(0.9757,1)" font-size="22.68">1.6</text>
<text transform="translate(547.14,723.10) scale(0.9545,1)" font-size="23.00">1.4</text>
<text transform="translate(547.12,788.10) scale(0.9696,1)" font-size="23.00">1.2</text>
<text transform="translate(547.13,854.77) scale(0.9757,1)" font-size="22.68">1.0</text>
<text transform="translate(546.91,921.87) scale(0.9830,1)" font-size="22.68">0.8</text>
<text transform="translate(546.91,985.97) scale(0.9830,1)" font-size="22.68">0.6</text>
<text transform="translate(546.92,1040.77) scale(0.9755,1)" font-size="22.68">0.4</text>
<text transform="translate(632.58,1091.28) scale(1.0525,1)" font-size="21.97">0</text>
<text transform="translate(712.30,1091.50) scale(0.9889,1)" font-size="22.29">24</text>
<text transform="translate(798.66,1091.28) scale(1.0100,1)" font-size="21.97">43</text>
<text transform="translate(883.85,1091.28) scale(1.0499,1)" font-size="21.97">92</text>
<text transform="translate(957.71,1091.28) scale(1.0196,1)" font-size="21.97">132</text>
<text transform="translate(787.02,1119.20) scale(1.0384,1)" font-size="21.44">Days</text>
<text transform="translate(542.90,958.83) rotate(-90) scale(1.0048,1)" font-size="22.75">Monocytes,  10<tspan dy="-0.492em" font-size="0.62em">3</tspan><tspan dy="0.305em">/ µL</tspan></text>
<line x1="1084.00" y1="707.50" x2="1535.50" y2="707.50" stroke="#ebebeb" stroke-width="1.1" />
<line x1="1084.00" y1="799.50" x2="1535.50" y2="799.50" stroke="#ebebeb" stroke-width="1.1" />
<line x1="1084.00" y1="892.00" x2="1535.50" y2="892.00" stroke="#ebebeb" stroke-width="1.1" />
<line x1="1084.00" y1="984.25" x2="1535.50" y2="984.25" stroke="#ebebeb" stroke-width="1.1" />
<line x1="1135.75" y1="642.50" x2="1135.75" y2="1058.75" stroke="#ebebeb" stroke-width="1.1" />
<line x1="1223.00" y1="642.50" x2="1223.00" y2="1058.75" stroke="#ebebeb" stroke-width="1.1" />
<line x1="1310.00" y1="642.50" x2="1310.00" y2="1058.75" stroke="#ebebeb" stroke-width="1.1" />
<line x1="1396.75" y1="642.50" x2="1396.75" y2="1058.75" stroke="#ebebeb" stroke-width="1.1" />
<line x1="1483.50" y1="642.50" x2="1483.50" y2="1058.75" stroke="#ebebeb" stroke-width="1.1" />
<line x1="1119.50" y1="763.00" x2="1119.50" y2="859.50" stroke="#7de63a" stroke-width="1.35" />
<line x1="1119.50" y1="933.25" x2="1119.50" y2="983.75" stroke="#7de63a" stroke-width="1.35" />
<rect x="1103.25" y="859.50" width="32.50" height="73.75" stroke="#7de63a" stroke-width="1.35" fill="none" />
<line x1="1103.25" y1="914.75" x2="1135.75" y2="914.75" stroke="#5cdc00" stroke-width="2.1" />
<path d="M1119.50 890.55L1122.70 893.75L1119.50 896.95L1116.30 893.75Z" fill="#66dd1a"/>
<line x1="1152.00" y1="838.00" x2="1152.00" y2="838.75" stroke="#ac6de2" stroke-width="1.35" />
<line x1="1152.00" y1="910.50" x2="1152.00" y2="928.75" stroke="#ac6de2" stroke-width="1.35" />
<rect x="1135.75" y="838.75" width="32.50" height="71.75" stroke="#ac6de2" stroke-width="1.35" fill="none" />
<line x1="1135.75" y1="873.25" x2="1168.25" y2="873.25" stroke="#8a2be2" stroke-width="2.1" />
<path d="M1152.00 843.30L1155.20 846.50L1152.00 849.70L1148.80 846.50Z" fill="#9440d8"/>
<line x1="1206.75" y1="753.75" x2="1206.75" y2="838.75" stroke="#7de63a" stroke-width="1.35" />
<line x1="1206.75" y1="908.00" x2="1206.75" y2="975.00" stroke="#7de63a" stroke-width="1.35" />
<rect x="1190.50" y="838.75" width="32.50" height="69.25" stroke="#7de63a" stroke-width="1.35" fill="none" />
<line x1="1190.50" y1="864.25" x2="1223.00" y2="864.25" stroke="#5cdc00" stroke-width="2.1" />
<path d="M1206.75 867.30L1209.95 870.50L1206.75 873.70L1203.55 870.50Z" fill="#66dd1a"/>
<line x1="1239.25" y1="717.00" x2="1239.25" y2="795.00" stroke="#ac6de2" stroke-width="1.35" />
<line x1="1239.25" y1="871.25" x2="1239.25" y2="965.75" stroke="#ac6de2" stroke-width="1.35" />
<rect x="1223.00" y="795.00" width="32.50" height="76.25" stroke="#ac6de2" stroke-width="1.35" fill="none" />
<line x1="1223.00" y1="850.25" x2="1255.50" y2="850.25" stroke="#8a2be2" stroke-width="2.1" />
<path d="M1239.25 838.80L1242.45 842.00L1239.25 845.20L1236.05 842.00Z" fill="#9440d8"/>
<line x1="1293.75" y1="790.75" x2="1293.75" y2="841.25" stroke="#7de63a" stroke-width="1.35" />
<line x1="1293.75" y1="889.75" x2="1293.75" y2="956.25" stroke="#7de63a" stroke-width="1.35" />
<rect x="1277.50" y="841.25" width="32.50" height="48.50" stroke="#7de63a" stroke-width="1.35" fill="none" />
<line x1="1277.50" y1="868.75" x2="1310.00" y2="868.75" stroke="#5cdc00" stroke-width="2.1" />
<path d="M1293.75 861.80L1296.95 865.00L1293.75 868.20L1290.55 865.00Z" fill="#66dd1a"/>
<line x1="1326.25" y1="661.50" x2="1326.25" y2="778.75" stroke="#ac6de2" stroke-width="1.35" />
<line x1="1326.25" y1="880.50" x2="1326.25" y2="984.00" stroke="#ac6de2" stroke-width="1.35" />
<rect x="1310.00" y="778.75" width="32.50" height="101.75" stroke="#ac6de2" stroke-width="1.35" fill="none" />
<line x1="1310.00" y1="845.50" x2="1342.50" y2="845.50" stroke="#8a2be2" stroke-width="2.1" />
<path d="M1326.25 823.80L1329.45 827.00L1326.25 830.20L1323.05 827.00Z" fill="#9440d8"/>
<line x1="1380.50" y1="827.50" x2="1380.50" y2="878.25" stroke="#7de63a" stroke-width="1.35" />
<rect x="1364.25" y="878.25" width="32.50" height="50.75" stroke="#7de63a" stroke-width="1.35" fill="none" />
<line x1="1364.25" y1="901.00" x2="1396.75" y2="901.00" stroke="#5cdc00" stroke-width="2.1" />
<path d="M1380.50 904.30L1383.70 907.50L1380.50 910.70L1377.30 907.50Z" fill="#66dd1a"/>
<line x1="1413.00" y1="735.25" x2="1413.00" y2="806.50" stroke="#ac6de2" stroke-width="1.35" />
<line x1="1413.00" y1="889.75" x2="1413.00" y2="965.75" stroke="#ac6de2" stroke-width="1.35" />
<rect x="1396.75" y="806.50" width="32.50" height="83.25" stroke="#ac6de2" stroke-width="1.35" fill="none" />
<line x1="1396.75" y1="850.00" x2="1429.25" y2="850.00" stroke="#8a2be2" stroke-width="2.1" />
<path d="M1413.00 846.80L1416.20 850.00L1413.00 853.20L1409.80 850.00Z" fill="#9440d8"/>
<line x1="1467.25" y1="800.00" x2="1467.25" y2="852.50" stroke="#7de63a" stroke-width="1.35" />
<line x1="1467.25" y1="945.25" x2="1467.25" y2="1039.25" stroke="#7de63a" stroke-width="1.35" />
<rect x="1451.00" y="852.50" width="32.50" height="92.75" stroke="#7de63a" stroke-width="1.35" fill="none" />
<line x1="1451.00" y1="933.50" x2="1483.50" y2="933.50" stroke="#5cdc00" stroke-width="2.1" />
<path d="M1467.25 911.80L1470.45 915.00L1467.25 918.20L1464.05 915.00Z" fill="#66dd1a"/>
<line x1="1499.75" y1="753.75" x2="1499.75" y2="831.75" stroke="#ac6de2" stroke-width="1.35" />
<line x1="1499.75" y1="899.00" x2="1499.75" y2="965.75" stroke="#ac6de2" stroke-width="1.35" />
<rect x="1483.50" y="831.75" width="32.50" height="67.25" stroke="#ac6de2" stroke-width="1.35" fill="none" />
<line x1="1483.50" y1="882.75" x2="1516.00" y2="882.75" stroke="#8a2be2" stroke-width="2.1" />
<path d="M1499.75 855.05L1502.95 858.25L1499.75 861.45L1496.55 858.25Z" fill="#9440d8"/>
<line x1="1113.25" y1="735.50" x2="1163.75" y2="735.50" stroke="#555" stroke-width="1.3" />
<text x="1133.00" y="739.08" font-size="19" stroke="#000" stroke-width="0.45">*</text>
<line x1="1373.25" y1="705.50" x2="1423.75" y2="705.50" stroke="#555" stroke-width="1.3" />
<text x="1393.10" y="709.28" font-size="19" stroke="#000" stroke-width="0.45">*</text>
<line x1="1459.50" y1="705.50" x2="1510.00" y2="705.50" stroke="#555" stroke-width="1.3" />
<text x="1479.89" y="709.28" font-size="19" stroke="#000" stroke-width="0.45">*</text>
<line x1="1084.00" y1="642.50" x2="1084.00" y2="1058.75" stroke="#222" stroke-width="1.6" />
<line x1="1084.00" y1="1058.75" x2="1535.50" y2="1058.75" stroke="#222" stroke-width="1.6" />
<line x1="1135.75" y1="1058.75" x2="1135.75" y2="1062.25" stroke="#222" stroke-width="1.3" />
<line x1="1223.00" y1="1058.75" x2="1223.00" y2="1062.25" stroke="#222" stroke-width="1.3" />
<line x1="1310.00" y1="1058.75" x2="1310.00" y2="1062.25" stroke="#222" stroke-width="1.3" />
<line x1="1396.75" y1="1058.75" x2="1396.75" y2="1062.25" stroke="#222" stroke-width="1.3" />
<line x1="1483.50" y1="1058.75" x2="1483.50" y2="1062.25" stroke="#222" stroke-width="1.3" />
<line x1="1080.50" y1="707.50" x2="1084.00" y2="707.50" stroke="#222" stroke-width="1.3" />
<line x1="1080.50" y1="799.50" x2="1084.00" y2="799.50" stroke="#222" stroke-width="1.3" />
<line x1="1080.50" y1="892.00" x2="1084.00" y2="892.00" stroke="#222" stroke-width="1.3" />
<line x1="1080.50" y1="984.25" x2="1084.00" y2="984.25" stroke="#222" stroke-width="1.3" />
<text transform="translate(1056.40,714.87) scale(1.0546,1)" font-size="22.68">6</text>
<text transform="translate(1056.68,808.17) scale(0.9964,1)" font-size="23.00">5</text>
<text transform="translate(1057.17,901.60) scale(0.9378,1)" font-size="23.00">4</text>
<text transform="translate(1056.66,992.77) scale(1.0321,1)" font-size="22.68">3</text>
<text transform="translate(1131.56,1087.18) scale(1.0532,1)" font-size="22.25">0</text>
<text transform="translate(1211.35,1087.40) scale(1.0216,1)" font-size="22.57">24</text>
<text transform="translate(1297.80,1087.18) scale(1.0164,1)" font-size="22.25">43</text>
<text transform="translate(1383.07,1087.18) scale(1.0567,1)" font-size="22.25">92</text>
<text transform="translate(1456.93,1087.18) scale(1.0213,1)" font-size="22.25">132</text>
<text transform="translate(1286.45,1114.49) scale(1.0692,1)" font-size="21.00">Days</text>
<text transform="translate(1054.70,985.68) rotate(-90) scale(0.9835,1)" font-size="22.61">Lymphocytes, 10<tspan dy="-0.492em" font-size="0.62em">3</tspan><tspan dy="0.305em">/ µL</tspan></text>
<line x1="1051.5" y1="770.3" x2="1055" y2="769.8" stroke="#c8c8c8" stroke-width="0.9"/>
<text transform="translate(1230.76,1166.37) scale(0.9625,1)" font-size="23.00">Treatments</text>
<path d="M1355.10 1154.6L1357.70 1154.6L1357.90 1156.3L1360.30 1156.8L1360.80 1158.0L1360.80 1162.3999999999999L1360.30 1163.6L1357.90 1164.1L1357.70 1165.8L1355.10 1165.8L1354.90 1164.1L1352.50 1163.6L1352.00 1162.3999999999999L1352.00 1158.0L1352.50 1156.8L1354.90 1156.3Z" fill="#74ea2c"/>
<line x1="1354.00" y1="1158.70" x2="1358.80" y2="1158.70" stroke="#eaffdf" stroke-width="1.1" />
<line x1="1354.00" y1="1161.60" x2="1358.80" y2="1161.60" stroke="#eaffdf" stroke-width="1.1" />
<path d="M1382.70 1154.6L1385.30 1154.6L1385.50 1156.3L1387.90 1156.8L1388.40 1158.0L1388.40 1162.3999999999999L1387.90 1163.6L1385.50 1164.1L1385.30 1165.8L1382.70 1165.8L1382.50 1164.1L1380.10 1163.6L1379.60 1162.3999999999999L1379.60 1158.0L1380.10 1156.8L1382.50 1156.3Z" fill="#a55fe4"/>
<line x1="1381.60" y1="1158.70" x2="1386.40" y2="1158.70" stroke="#f2e6ff" stroke-width="1.1" />
<line x1="1381.60" y1="1161.60" x2="1386.40" y2="1161.60" stroke="#f2e6ff" stroke-width="1.1" />
<g stroke="#000" stroke-width="0.35">
<text transform="translate(1363.44,1166.70) scale(1.0678,1)" font-size="17.14">R</text>
<text transform="translate(1390.71,1167.02) scale(0.9849,1)" font-size="18.17">S</text>
</g>
<text transform="translate(1426.05,1166.82) scale(1.0018,1)" font-size="17.57">*<tspan font-style="italic">P</tspan>-value&lt;0.05</text>
</svg>
</body></html>
